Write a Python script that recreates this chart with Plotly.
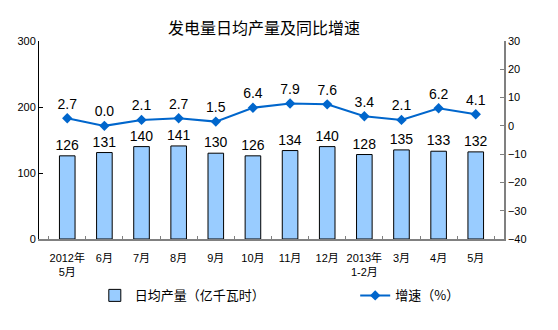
import plotly.graph_objects as go

categories = ["2012年<br>5月", "6月", "7月", "8月", "9月", "10月", "11月", "12月",
              "2013年<br>1-2月", "3月", "4月", "5月"]
daily_output = [126, 131, 140, 141, 130, 126, 134, 140, 128, 135, 133, 132]
growth = [2.7, 0.0, 2.1, 2.7, 1.5, 6.4, 7.9, 7.6, 3.4, 2.1, 6.2, 4.1]

FONT = "Arial, 'Liberation Sans', 'Noto Sans CJK SC', sans-serif"
CJK = "'Noto Sans CJK SC', sans-serif"

fig = go.Figure()
fig.add_trace(go.Bar(
    x=categories, y=daily_output, name="日均产量（亿千瓦时）",
    marker=dict(color="#99CCFF", line=dict(color="#000000", width=1)),
    width=0.42,
    text=[str(v) for v in daily_output], textposition="outside",
    constraintext="none",
    textfont=dict(size=14, color="#000000", family=FONT),
    cliponaxis=False, legend="legend",
))
fig.add_trace(go.Scatter(
    x=categories, y=growth, name="增速（%）", yaxis="y2",
    mode="lines+markers+text",
    line=dict(color="#0066CC", width=2),
    marker=dict(symbol="diamond", size=8, color="#0066CC"),
    text=[f"{v:.1f}" for v in growth], textposition="top center",
    textfont=dict(size=14, color="#000000", family=FONT),
    cliponaxis=False, legend="legend2",
))

fig.update_layout(
    width=558, height=330,
    margin=dict(l=39, r=54, t=41, b=91),
    paper_bgcolor="white", plot_bgcolor="white",
    font=dict(family=FONT, size=11, color="#000000"),
    title=dict(text="发电量日均产量及同比增速", x=0.473, xanchor="center",
               y=0.915, yanchor="middle",
               font=dict(size=16, family=CJK, color="#000000")),
    xaxis=dict(showline=True, linecolor="#808080", linewidth=1.5,
               ticks="inside", ticklen=3, tickcolor="#808080",
               tickson="boundaries", showgrid=False, ticklabelstandoff=8,
               tickfont=dict(size=11, family=FONT), tickangle=0),
    yaxis=dict(range=[0, 300], dtick=100, showline=True, linecolor="#000000",
               linewidth=1, ticks="inside", ticklen=4, tickcolor="#000000",
               showgrid=False, zeroline=False, tickfont=dict(size=11)),
    yaxis2=dict(range=[-40, 30], dtick=10, overlaying="y", side="right",
                showline=True, linecolor="#808080", linewidth=1.5,
                ticks="inside", ticklen=4, tickcolor="#808080",
                showgrid=False, zeroline=False, tickfont=dict(size=11)),
    showlegend=True,
    legend=dict(orientation="h", x=0.12, y=-0.285, xanchor="left", yanchor="middle",
                font=dict(size=13, family=CJK), bgcolor="rgba(0,0,0,0)"),
    legend2=dict(orientation="h", x=0.68, y=-0.285, xanchor="left", yanchor="middle",
                 font=dict(size=13, family=CJK), bgcolor="rgba(0,0,0,0)"),
    bargap=0.58,
)

fig.write_html("out.html")
